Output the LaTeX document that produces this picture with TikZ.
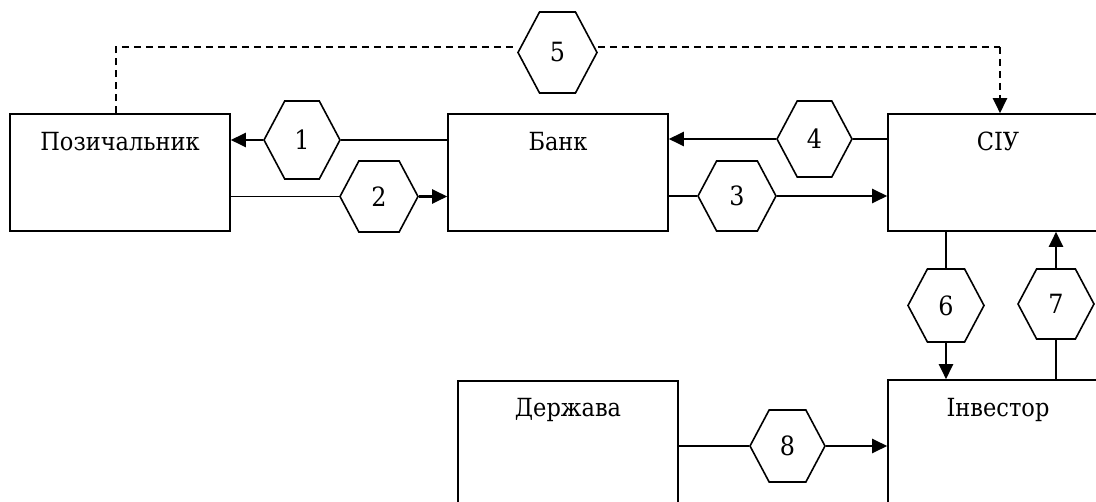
\documentclass[tikz,border=0pt]{standalone}
\usepackage{fontspec}
\setmainfont{DejaVu Serif Condensed}
\usetikzlibrary{shapes.symbols,arrows.meta}
\begin{document}
\begin{tikzpicture}[x=1pt,y=-1pt,
 lbl/.style={font=\fontsize{25}{30}\selectfont, inner sep=0pt},
 box/.style={draw, line width=1.6pt, minimum width=220pt, minimum height=117pt, inner sep=0pt},
 tallbox/.style={box, minimum height=141pt},
 hexa/.style 2 args={draw, line width=1.6pt, signal, signal to=east and west, signal pointer angle=124,
   minimum width=#1, minimum height=#2, inner sep=0pt, font=\fontsize{26.5}{30}\selectfont},
 lineA/.style={line width=1.6pt},
 arr/.style={line width=2.4pt, -{Triangle[length=15pt,width=14pt]}},
 dashA/.style={line width=1.6pt, dash pattern=on 7pt off 5pt},
 dashArr/.style={line width=2.4pt, dash pattern=on 7pt off 5pt, -{Triangle[length=15pt,width=14pt]}}
]
\useasboundingbox (0,0) rectangle (1096,502);
\clip (0,0) rectangle (1096,502);

% boxes
\node[box] (pos) at (120,172.5) {};
\node[box] (bank) at (558,172.5) {};
\node[box] (siu) at (998,172.5) {};
\node[tallbox] (derz) at (568,451.5) {};
\node[tallbox] (inv) at (998,450.5) {};

\node[lbl, anchor=base] (posT) at ([yshift=-37pt]pos.north) {Позичальник};
\node[lbl, anchor=base] (bankT) at ([yshift=-37pt]bank.north) {Банк};
\node[lbl, anchor=base] (siuT) at ([yshift=-37pt]siu.north) {СІУ};
\node[lbl, anchor=base] (derzT) at ([yshift=-36pt]derz.north) {Держава};
\node[lbl, anchor=base] (invT) at ([yshift=-37pt]inv.north) {Інвестор};

% hexagons
\node[hexa={76pt}{78pt}] (h1) at (302,140) {1};
\node[hexa={78pt}{71pt}] (h2) at (379,196.5) {2};
\node[hexa={78pt}{70pt}] (h3) at (737,196) {3};
\node[hexa={75pt}{76pt}] (h4) at (814.5,139) {4};
\node[hexa={79pt}{81pt}] (h5) at (557.5,52.5) {5};
\node[hexa={76pt}{73pt}] (h6) at (946,305.5) {6};
\node[hexa={76pt}{70pt}] (h7) at (1056,304) {7};
\node[hexa={75pt}{72pt}] (h8) at (787.5,446) {8};

% connectors
\draw[lineA] (bank.west |- h1.west) -- (h1.east);
\draw[arr] (h1.west) -- (pos.east |- h1.west);

\draw[lineA] (pos.east |- h2.west) -- (h2.west);
\draw[arr] (h2.east) -- (bank.west |- h2.east);

\draw[lineA] (bank.east |- h3.west) -- (h3.west);
\draw[arr] (h3.east) -- (siu.west |- h3.east);

\draw[lineA] (siu.west |- h4.east) -- (h4.east);
\draw[arr] (h4.west) -- (bank.east |- h4.west);

\coordinate (dl) at (116,47);
\coordinate (dr) at (1000,47);
\draw[dashA] (pos.north -| dl) -- (dl) -- (dl -| h5.west);
\draw[dashA] (dr -| h5.east) -- (dr);
\draw[dashArr] (dr) -- (siu.north -| dr);

\draw[lineA] (siu.south -| h6.north) -- (h6.north);
\draw[arr] (h6.south) -- (inv.north -| h6.south);

\draw[lineA] (inv.north -| h7.south) -- (h7.south);
\draw[arr] (h7.north) -- (siu.south -| h7.north);

\draw[lineA] (derz.east |- h8.west) -- (h8.west);
\draw[arr] (h8.east) -- (inv.west |- h8.east);
\end{tikzpicture}
\end{document}
